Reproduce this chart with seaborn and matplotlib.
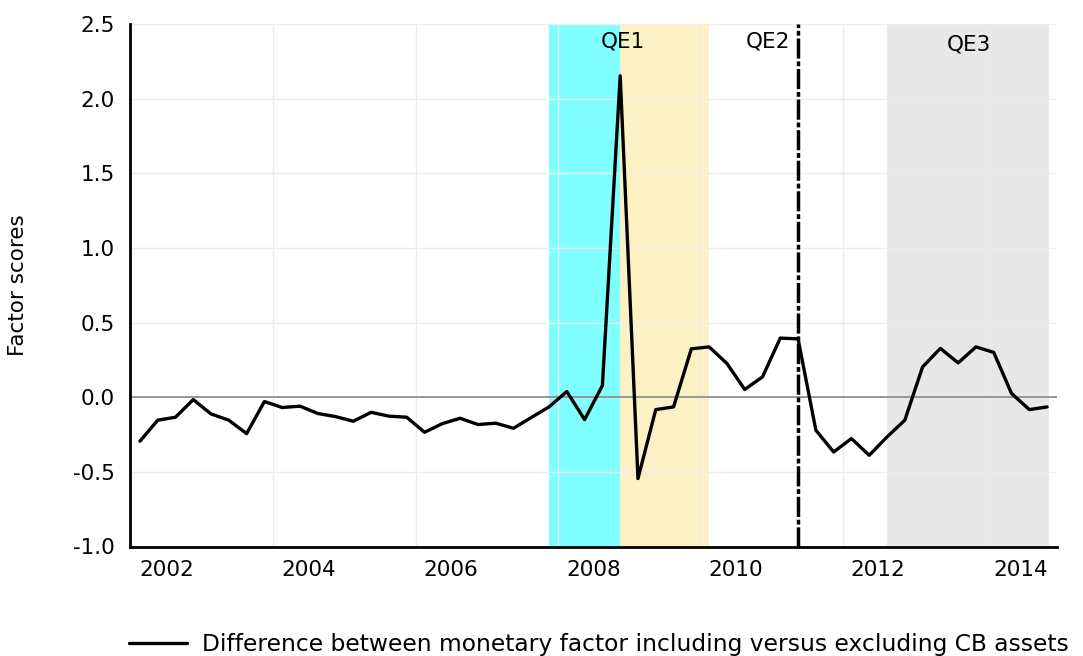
import numpy as np
import pandas as pd
import matplotlib
matplotlib.use("Agg")
import matplotlib.pyplot as plt
import seaborn as sns

# ---- data ----
start_quarter = "2001Q3"
values = [-0.295, -0.154, -0.134, -0.016, -0.112, -0.154, -0.244, -0.029, -0.069, -0.060,
          -0.109, -0.130, -0.161, -0.101, -0.127, -0.134, -0.235, -0.177, -0.141, -0.183,
          -0.174, -0.208, -0.136, -0.065, 0.038, -0.150, 0.078, 2.153, -0.545, -0.083,
          -0.065, 0.324, 0.337, 0.226, 0.052, 0.136, 0.396, 0.391, -0.221, -0.367,
          -0.277, -0.389, -0.266, -0.154, 0.203, 0.327, 0.230, 0.337, 0.300, 0.025,
          -0.083, -0.065]
series_label = "Difference between monetary factor including versus excluding CB assets"
y_ticks = [-1.0, -0.5, 0.0, 0.5, 1.0, 1.5, 2.0, 2.5]
x_tick_years = [2002, 2004, 2006, 2008, 2010, 2012, 2014]
qe1a = ("2007Q2", "2008Q2")
qe1b = ("2008Q2", "2009Q3")
qe2 = "2010Q4"
qe3 = ("2012Q1", "2014Q2")

quarters = pd.period_range(start_quarter, periods=len(values), freq="Q")


def qpos(q):
    p = pd.Period(q, freq="Q") if not isinstance(q, pd.Period) else q
    return p.year + (p.quarter - 1) / 4 + 0.125


df = pd.DataFrame({"t": [qpos(q) for q in quarters], "v": values})

sns.set_style("white")
plt.rcParams["font.family"] = ["DejaVu Sans"]
plt.rcParams["lines.scale_dashes"] = False
for k in ["text.color", "axes.labelcolor", "xtick.color", "ytick.color"]:
    plt.rcParams[k] = "black"
FS = 15.5

fig = plt.figure(figsize=(10.83, 6.56), dpi=100)
ax = fig.add_axes([130 / 1083, 1 - 546.5 / 656, (1057 - 130) / 1083, (546.5 - 24) / 656])

# shading
ax.axvspan(qpos(qe1a[0]), qpos(qe1a[1]), color="#80FFFF", lw=0, zorder=0)
ax.axvspan(qpos(qe1b[0]), qpos(qe1b[1]), color="#FCF1C4", lw=0, zorder=0)
ax.axvspan(qpos(qe3[0]), qpos(qe3[1]) + 0.02, color="#E8E8E8", lw=0, zorder=0)

# grid
for yv in y_ticks:
    ax.axhline(yv, color="#ececec", lw=1.0, zorder=1)
for gx in np.arange(x_tick_years[0] + 1.5, x_tick_years[-1], 2):
    ax.axvline(gx, color="#ececec", lw=1.0, zorder=1)

ax.axhline(0, color="#7f7f7f", lw=1.1, zorder=2)

# QE2 line
ln = ax.axvline(qpos(qe2), color="black", lw=2.5, zorder=3)
ln.set_dashes((14.5, 2.0, 3.5, 2.0))

sns.lineplot(data=df, x="t", y="v", ax=ax, color="black", lw=2.4, zorder=4,
             label=series_label, legend=False)

ax.set_xlim(2001.5 - 0.014, 2014.5 + 0.014)
ax.set_ylim(-1.0, 2.5)
ax.set_yticks(y_ticks)
ax.set_yticklabels([f"{v:.1f}" for v in y_ticks], fontsize=FS)
ax.set_xticks(x_tick_years)
ax.set_xticklabels([str(y) for y in x_tick_years], fontsize=FS)
ax.tick_params(axis="y", length=0, pad=11)
ax.tick_params(axis="x", length=0, pad=10)
ax.set_xlabel("")
ax.set_ylabel("Factor scores", fontsize=FS)
ax.yaxis.set_label_coords(-0.110, 0.5)

for s in ["top", "right"]:
    ax.spines[s].set_visible(False)
for s in ["left", "bottom"]:
    ax.spines[s].set_color("black")
    ax.spines[s].set_linewidth(2.0)
    ax.spines[s].set_zorder(5)

# QE labels
ax.text(qpos(qe1a[1]) + 0.04, 0.967, "QE1", transform=ax.get_xaxis_transform(),
        ha="center", va="center", fontsize=FS)
ax.text(qpos("2010Q2") + 0.08, 0.967, "QE2", transform=ax.get_xaxis_transform(),
        ha="center", va="center", fontsize=FS)
ax.text((qpos(qe3[0]) + qpos(qe3[1])) / 2 + 0.03, 0.961, "QE3", transform=ax.get_xaxis_transform(),
        ha="center", va="center", fontsize=FS)

handles, labels = ax.get_legend_handles_labels()
fig.legend(handles, labels, loc="center left", bbox_to_anchor=(108 / 1083, 1 - 645 / 656),
           frameon=False, fontsize=16.8, handlelength=2.5, handletextpad=0.65)

fig.savefig("out.png", dpi=100)
